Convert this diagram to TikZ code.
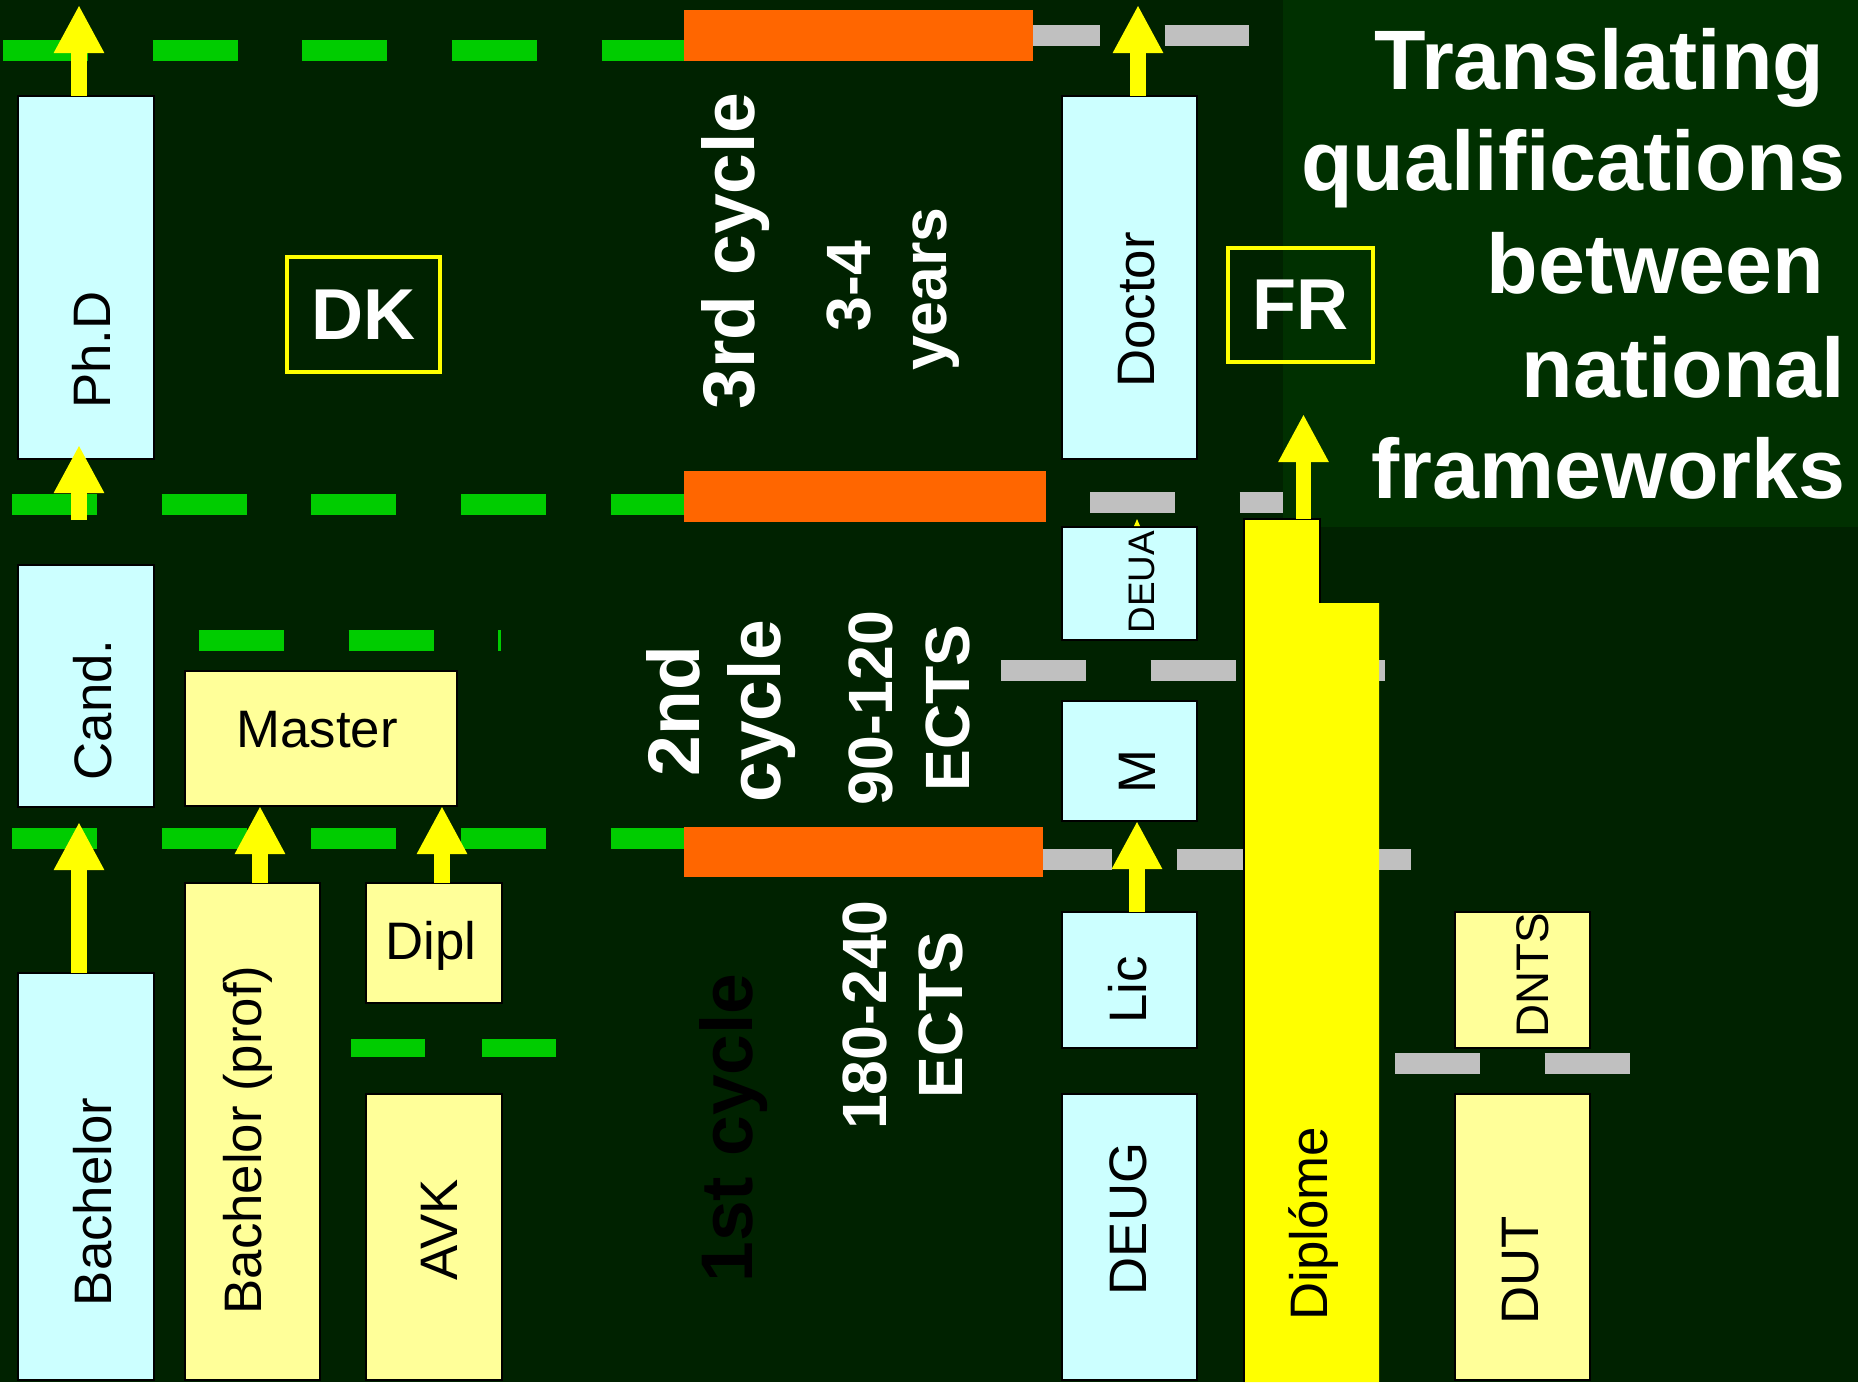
\documentclass[tikz,border=0pt]{standalone}
\usepackage{fontspec}
\setmainfont{Liberation Sans}
\usetikzlibrary{arrows.meta,calc}
\definecolor{bgdark}{RGB}{0,34,0}
\definecolor{titlebg}{RGB}{0,48,0}
\definecolor{dashgreen}{RGB}{0,204,0}
\definecolor{dashgray}{RGB}{192,192,192}
\definecolor{orng}{RGB}{255,102,0}
\definecolor{boxcyan}{RGB}{204,255,255}
\definecolor{boxyel}{RGB}{255,255,153}
\definecolor{arrowyel}{RGB}{255,255,0}
\tikzset{
	cbox/.style 2 args={rectangle, draw=black, line width=0.8pt, fill=boxcyan, inner sep=0pt, outer sep=0pt,
		anchor=north west, minimum width=#1*0.01cm, minimum height=#2*0.01cm},
	ybox/.style 2 args={cbox={#1}{#2}, fill=boxyel},
	lab/.style={inner sep=0pt, anchor=base, font=\fontsize{15}{18}\selectfont},
	vlab/.style={lab, rotate=90},
	cyc/.style={inner sep=0pt, anchor=base, rotate=90, text=white, font=\fontsize{20.8}{25}\bfseries\selectfont},
	ects/.style={cyc, font=\fontsize{17.8}{21}\bfseries\selectfont},
	ttl/.style={inner sep=0pt, anchor=base east, text=white, font=\fontsize{24}{29}\bfseries\selectfont},
	cty/.style 2 args={rectangle, draw=arrowyel, line width=1pt, text=white, inner sep=0pt, anchor=north west,
		minimum width=#1*0.01cm, minimum height=#2*0.01cm, font=\fontsize{20.5}{24}\bfseries\selectfont},
	gline/.style={draw=dashgreen, line width=5.97pt, dash pattern=on 24.2pt off 18.35pt},
	grline/.style={gline, draw=dashgray},
	yarrow/.style={draw=arrowyel, line width=4.44pt, -{Triangle[width=13.4pt, length=13.7pt]}}
}

\begin{document}
\begin{tikzpicture}[x=0.01cm, y=-0.01cm]
	\useasboundingbox (0,0) rectangle (1858,1382);
	\fill[bgdark] (0,0) rectangle (1858,1382);
	\fill[titlebg] (1283,0) rectangle (1858,527);
	% level lines, DK side
	\draw[gline] (3,50.5) -- (684,50.5);
	\draw[gline] (12,504) -- (684,504);
	\draw[gline] (12,838.5) -- (684,838.5);
	\draw[gline] (199,640.5) -- (501,640.5);
	\draw[gline, line width=5.1pt, dash pattern=on 21.05pt off 16.2pt] (351,1048) -- (556,1048);
	% level lines, FR side
	\draw[grline] (1015,35.5) -- (1249,35.5);
	\draw[grline] (1090,502.5) -- (1283,502.5);
	\draw[grline] (1001,670.5) -- (1386,670.5);
	\draw[grline] (1027,859.5) -- (1411,859.5);
	\draw[grline] (1395,1063.5) -- (1630,1063.5);
	% cycle bars
	\fill[orng] (684,10) rectangle (1033,61);
	\fill[orng] (684,471) rectangle (1046,522);
	\fill[orng] (684,827) rectangle (1043,877);
	% Diplome
	\fill[arrowyel] (1244,1382) -- (1244,519) -- (1320,519) -- (1320,603) -- (1379,603) -- (1379,1382) -- cycle;
	\draw[line width=0.8pt] (1244,1382) -- (1244,519) -- (1320,519) -- (1320,603);
	\coordinate (dip-top) at (1303.5,519);
	\coordinate (dip-up) at (1303.5,414);
	% DK boxes
	\node[cbox={136}{363}] (phd) at (18,96) {};
	\node[cbox={136}{242}] (cand) at (18,565) {};
	\node[cbox={136}{407}] (bach) at (18,973) {};
	\node[ybox={272}{135}] (master) at (185,671) {};
	\node[ybox={135}{497}] (bprof) at (185,883) {};
	\node[ybox={136}{120}] (dipl) at (366,883) {};
	\node[ybox={136}{286}] (avk) at (366,1094) {};
	% FR boxes
	\node[cbox={135}{363}] (doctor) at (1062,96) {};
	\node[cbox={135}{113}] (deua) at (1062,527) {};
	\node[cbox={135}{120}] (m) at (1062,701) {};
	\node[cbox={135}{136}] (lic) at (1062,912) {};
	\node[cbox={135}{286}] (deug) at (1062,1094) {};
	\node[ybox={135}{136}] (dnts) at (1455,912) {};
	\node[ybox={135}{286}] (dut) at (1455,1094) {};
	% arrows
	\coordinate (ph-up) at (79,5);
	\coordinate (b-line) at (79,520);
	\coordinate (x-bp) at (260,0);
	\coordinate (x-dp) at (442,0);
	\coordinate (dr-up) at (1138,5);
	\coordinate (x-lic) at (1137,0);
	\draw[yarrow] (phd.north -| ph-up) -- (ph-up);
	\draw[yarrow] (b-line) -- ($(phd.south -| b-line)+(0,-14)$);
	\draw[yarrow] (bach.north -| b-line) -- ($(cand.south -| b-line)+(0,15)$);
	\draw[yarrow] (bprof.north -| x-bp) -- (master.south -| x-bp);
	\draw[yarrow] (dipl.north -| x-dp) -- (master.south -| x-dp);
	\draw[yarrow] (doctor.north -| dr-up) -- (dr-up);
	\draw[yarrow] (lic.north -| x-lic) -- (m.south -| x-lic);
	\draw[yarrow] (dip-top) -- (dip-up);
	\fill[arrowyel] (deua.north) ++(7.5,-8) -- ++(-3,7) -- ++(6,0) -- cycle;
	% country boxes
	\node[cty={153}{115}] (dk) at (285,255) {DK};
	\node[cty={145}{114}] (fr) at (1226,246) {FR};
	% box labels
	\node[vlab] (l-phd) at (110,350) {Ph.D};
	\node[vlab] (l-cand) at (111,710) {Cand.};
	\node[vlab] (l-bach) at (111,1202) {Bachelor};
	\node[vlab] (l-bprof) at (261,1140) {Bachelor (prof)};
	\node[vlab] (l-avk) at (457,1230) {AVK};
	\node[lab] (l-master) at (317,747) {Master};
	\node[lab] (l-dipl) at (431,959) {Dipl};
	\node[vlab] (l-doctor) at (1154,310) {Doctor};
	\node[vlab, font=\fontsize{10.5}{12}\selectfont] (l-deua) at (1154,582) {DEUA};
	\node[vlab] (l-m) at (1155,772) {M};
	\node[vlab] (l-lic) at (1146,990) {Lic};
	\node[vlab] (l-deug) at (1146,1219) {DEUG};
	\node[vlab] (l-dipf) at (1327,1224) {Diplóme};
	\node[vlab, font=\fontsize{13}{15}\selectfont] (l-dnts) at (1548,975) {DNTS};
	\node[vlab] (l-dut) at (1538,1270) {DUT};
	% cycle texts
	\node[cyc] (c3) at (754,251) {3rd cycle};
	\node[ects] (c3a) at (870,286) {3-4};
	\node[ects] (c3b) at (946,289) {years};
	\node[cyc] (c2a) at (699,711) {2nd};
	\node[cyc] (c2b) at (780,711) {cycle};
	\node[ects] (c2c) at (892,708) {90-120};
	\node[ects] (c2d) at (969,708) {ECTS};
	\node[ects] (c1a) at (886,1015) {180-240};
	\node[ects] (c1b) at (962,1015) {ECTS};
	\node[cyc, text=black] (c1) at (752,1128) {1st cycle};
	% title
	\node[ttl] (t1) at (1825,90) {Translating};
	\node[ttl] (t2) at (1846,191) {qualifications};
	\node[ttl] (t3) at (1825,293) {between};
	\node[ttl] (t4) at (1846,397) {national};
	\node[ttl] (t5) at (1846,498) {frameworks};
\end{tikzpicture}
\end{document}
